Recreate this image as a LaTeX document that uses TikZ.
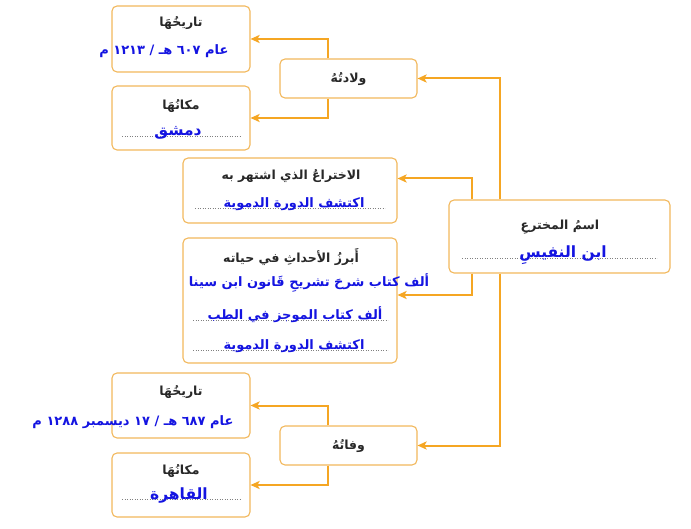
\documentclass[tikz,border=0pt]{standalone}
\usepackage{fontspec}
\usetikzlibrary{arrows.meta}
\newfontfamily\arabicfont[Script=Arabic]{DejaVu Sans}
\TeXXeTstate=1
\definecolor{lineorange}{RGB}{245,166,35}
\definecolor{boxorange}{RGB}{242,184,92}
\definecolor{valueblue}{RGB}{20,20,225}
\definecolor{titlegray}{RGB}{40,40,40}
\newcommand{\artext}[1]{\arabicfont\beginR #1\endR}

\begin{document}
\begin{tikzpicture}[x=1pt, y=-1pt,
    box/.style={draw=boxorange, line width=1.1pt, rounded corners=5pt, fill=white, inner sep=0pt},
    link/.style={draw=lineorange, line width=2pt, -{Stealth[length=9pt,width=8pt,inset=2pt]}},
    title/.style={text=titlegray, font=\bfseries\fontsize{12.5}{14}\selectfont},
    value/.style={text=valueblue, font=\bfseries\fontsize{13}{15}\selectfont, anchor=base},
    bigvalue/.style={value, font=\bfseries\fontsize{15.5}{17}\selectfont},
    dots/.style={draw=black!50, dotted, line width=0.5pt}]
    \useasboundingbox (0,0) rectangle (691,529);
    % boxes
    \node[box, minimum width=138pt, minimum height=66pt] (dateA) at (181,39) {};
    \node[box, minimum width=138pt, minimum height=64pt] (placeA) at (181,118) {};
    \node[box, minimum width=137pt, minimum height=39pt] (birth) at (348.5,78.5) {};
    \node[box, minimum width=214pt, minimum height=65pt] (invent) at (290,190.5) {};
    \node[box, minimum width=214pt, minimum height=125pt] (events) at (290,300.5) {};
    \node[box, minimum width=221pt, minimum height=73pt] (ism) at (559.5,236.5) {};
    \node[box, minimum width=138pt, minimum height=65pt] (dateB) at (181,405.5) {};
    \node[box, minimum width=138pt, minimum height=64pt] (placeB) at (181,485) {};
    \node[box, minimum width=137pt, minimum height=39pt] (death) at (348.5,445.5) {};
    % links
    \coordinate (trunk) at (500,0);
    \coordinate (twig) at (472,0);
    \coordinate (fork) at (328,0);
    \draw[link] (trunk |- ism.north) |- (birth.east);
    \draw[link] (trunk |- ism.south) |- (death.east);
    \draw[link] (twig |- ism.north) |- ([yshift=12pt]invent.east);
    \draw[link] (twig |- ism.south) |- ([yshift=5.5pt]events.east);
    \draw[link] (fork |- birth.north) |- (dateA.east);
    \draw[link] (fork |- birth.south) |- (placeA.east);
    \draw[link] (fork |- death.north) |- (dateB.east);
    \draw[link] (fork |- death.south) |- (placeB.east);
    % dotted lines
    \draw[dots] (122,136) -- (240,136);
    \draw[dots] (195,208) -- (385,208);
    \draw[dots] (193,320) -- (388,320);
    \draw[dots] (193,350) -- (388,350);
    \draw[dots] (462,258) -- (657,258);
    \draw[dots] (122,499) -- (240,499);
    % texts
    \node[title] (dateAtitle) at (181,23) {\artext{تاريخُهَا}};
    \node[value, anchor=base east] (dateAval) at (232,55) {\artext{عام ٦٠٧ هـ / ١٢١٣ م}};
    \node[title] (placeAtitle) at (181,106) {\artext{مكانُهَا}};
    \node[bigvalue] (placeAval) at (178,136) {\artext{دمشق}};
    \node[title] (birthtitle) at (348.5,79) {\artext{ولادتُهُ}};
    \node[title] (inventtitle) at (291,176) {\artext{الاختراعُ الذي اشتهر به}};
    \node[value] (inventval) at (294,208) {\artext{اكتشف الدورة الدموية}};
    \node[title] (eventstitle) at (291,257) {\artext{أَبرزُ الأحداثِ في حياته}};
    \node[value] (eventsA) at (309,287) {\artext{ألف كتاب شرحَ تشريحِ قَانون ابن سينا}};
    \node[value] (eventsB) at (295,320) {\artext{ألف كتاب الموجز في الطب}};
    \node[value] (eventsC) at (294,350) {\artext{اكتشف الدورة الدموية}};
    \node[title] (ismtitle) at (560,227) {\artext{اسمُ المخترعِ}};
    \node[bigvalue] (ismval) at (563,258) {\artext{ابن النفيسِ}};
    \node[title] (dateBtitle) at (181,392) {\artext{تاريخُهَا}};
    \node[value, anchor=base east] (dateBval) at (237,425) {\artext{عام ٦٨٧ هـ / ١٧ ديسمبر ١٢٨٨ م}};
    \node[title] (placeBtitle) at (181,471) {\artext{مكانُهَا}};
    \node[bigvalue] (placeBval) at (179,499) {\artext{القاهرة}};
    \node[title] (deathtitle) at (348.5,446) {\artext{وفاتُهُ}};
\end{tikzpicture}
\end{document}
